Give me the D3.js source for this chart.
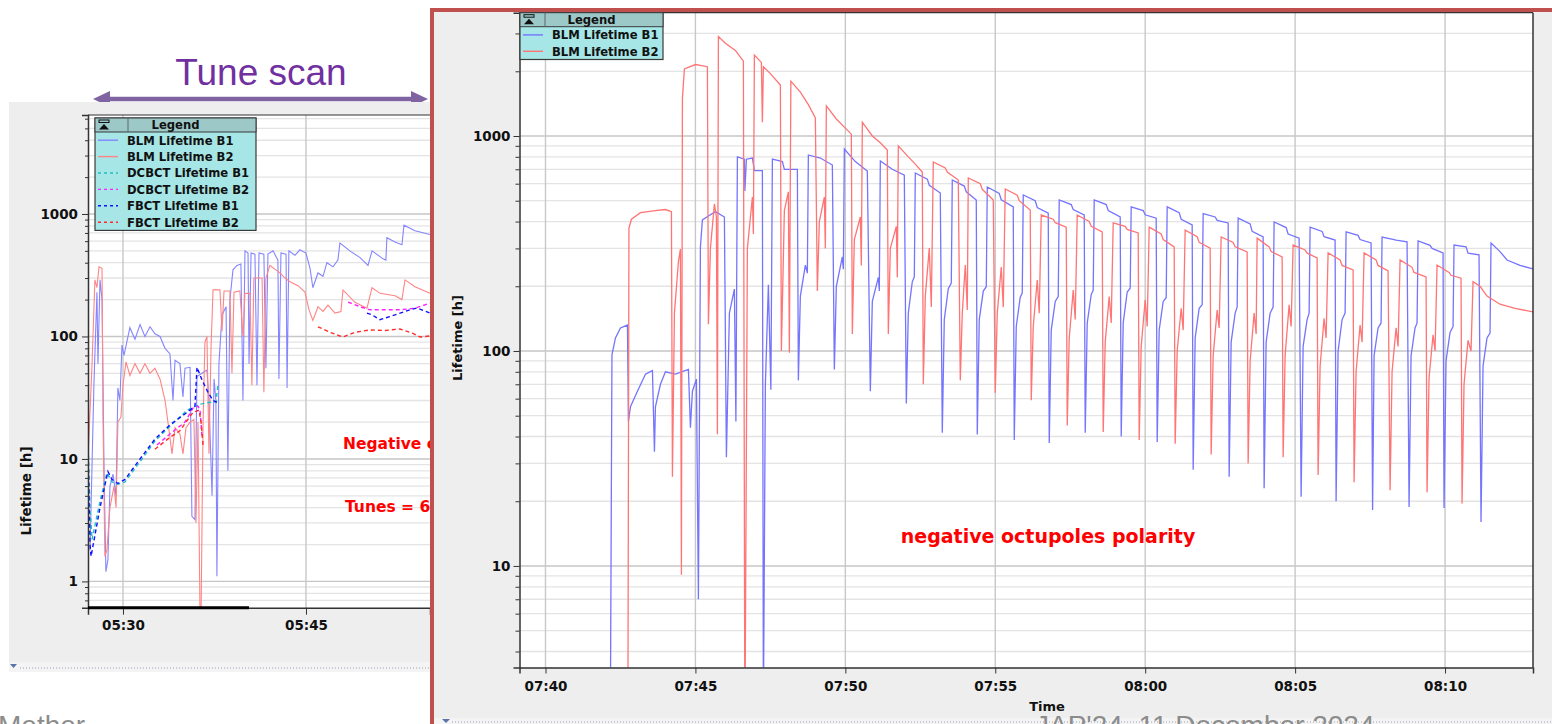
<!DOCTYPE html>
<html><head><meta charset="utf-8">
<script src="https://cdn.jsdelivr.net/npm/d3@7"></script>
<style>body{margin:0;background:#fff;} svg{display:block;}</style>
</head><body>
<svg id="c" width="1552" height="724"></svg>
<script>
// ---------------- DATA ----------------
const lifetimeTicks = [1, 10, 100, 1000];
const leftTimeTicks = ["05:30", "05:45"];
const rightTimeTicks = ["07:40", "07:45", "07:50", "07:55", "08:00", "08:05", "08:10"];
const leftLegend = ["BLM Lifetime B1", "BLM Lifetime B2", "DCBCT Lifetime B1", "DCBCT Lifetime B2", "FBCT Lifetime B1", "FBCT Lifetime B2"];
const rightLegend = ["BLM Lifetime B1", "BLM Lifetime B2"];

// Left panel (tune scan) series: [time, lifetime h]
const blmB1Left = [["05:27:18",1.8],["05:27:37",40],["05:27:52",230],["05:27:57",60],["05:28:07",290],["05:28:17",200],["05:28:27",8],["05:28:36",1.2],["05:28:46",1.5],["05:28:56",6],["05:29:11",7.5],["05:29:26",5],["05:29:35",38],["05:29:45",30],["05:29:55",85],["05:30:05",70],["05:30:34",118],["05:30:59",95],["05:31:24",125],["05:31:48",100],["05:32:13",120],["05:32:37",105],["05:33:02",100],["05:33:27",80],["05:33:51",72],["05:34:06",30],["05:34:16",64],["05:34:40",60],["05:34:55",32],["05:35:05",55],["05:35:30",56],["05:35:39",3.4],["05:35:54",3.2],["05:36:04",47],["05:36:43",52],["05:36:53",53],["05:37:03",30],["05:37:18",5],["05:37:28",45],["05:37:37",30],["05:37:42",1.1],["05:37:52",60],["05:38:07",150],["05:38:27",175],["05:38:36",8],["05:38:46",200],["05:39:01",350],["05:39:21",380],["05:39:40",390],["05:39:50",30],["05:40:00",500],["05:40:15",480],["05:40:20",60],["05:40:30",480],["05:40:49",470],["05:40:59",40],["05:41:09",480],["05:41:33",470],["05:41:43",55],["05:41:53",470],["05:42:18",500],["05:42:42",420],["05:42:47",45],["05:42:57",480],["05:43:22",470],["05:43:27",38],["05:43:36",500],["05:44:06",460],["05:44:30",510],["05:45:00",480],["05:45:20",360],["05:45:34",250],["05:45:59",330],["05:46:24",310],["05:46:43",400],["05:47:13",370],["05:47:37",420],["05:47:47",580],["05:48:36",500],["05:49:26",440],["05:50:05",380],["05:50:25",500],["05:51:19",430],["05:51:33",420],["05:51:38",640],["05:52:18",590],["05:52:52",560],["05:53:02",810],["05:53:56",730],["05:55:10",680]];
const blmB2Left = [["05:27:08",10],["05:27:28",60],["05:27:42",290],["05:27:52",250],["05:28:02",370],["05:28:17",360],["05:28:22",20],["05:28:31",1.6],["05:28:41",1.8],["05:28:56",4],["05:29:16",6],["05:29:26",4],["05:29:35",20],["05:29:50",22],["05:30:00",40],["05:30:15",62],["05:30:34",48],["05:30:59",60],["05:31:24",50],["05:31:48",60],["05:32:13",50],["05:32:37",55],["05:33:02",45],["05:33:27",30],["05:33:51",15],["05:34:01",11],["05:34:16",18],["05:34:40",16],["05:34:55",11],["05:35:10",18],["05:35:30",20],["05:35:49",21],["05:35:59",3],["05:36:09",20],["05:36:19",0.5],["05:36:24",0.5],["05:36:34",20],["05:36:43",90],["05:36:53",100],["05:37:03",11],["05:37:13",80],["05:37:23",240],["05:37:57",240],["05:38:07",110],["05:38:17",235],["05:38:46",235],["05:38:56",50],["05:39:06",230],["05:39:35",235],["05:39:50",100],["05:40:00",225],["05:40:25",225],["05:40:34",40],["05:40:44",300],["05:41:24",300],["05:41:33",35],["05:41:43",300],["05:42:03",380],["05:42:32",350],["05:42:52",330],["05:43:17",300],["05:43:41",280],["05:44:21",260],["05:44:55",230],["05:45:15",165],["05:45:34",135],["05:45:59",175],["05:46:24",160],["05:46:48",180],["05:47:23",155],["05:47:52",160],["05:48:02",240],["05:49:01",190],["05:50:00",170],["05:50:25",250],["05:51:04",225],["05:52:18",215],["05:52:52",200],["05:53:07",290],["05:53:56",255],["05:55:10",225]];
const dcbctB1Left = [["05:27:08",14],["05:27:18",4],["05:27:28",2.2],["05:28:07",4.5],["05:28:41",7.7],["05:29:06",6.5],["05:29:35",6.2],["05:30:10",6.5],["05:31:24",9.5],["05:32:37",14],["05:33:51",18.5],["05:35:15",25],["05:36:19",28],["05:37:08",29],["05:37:37",29],["05:37:47",40]];
const dcbctB2LeftA = [["05:32:47",13],["05:33:51",16],["05:35:05",20],["05:35:44",26],["05:36:09",27],["05:36:19",25],["05:36:29",15]];
const dcbctB2LeftB = [["05:48:27",191],["05:49:26",175],["05:50:15",165],["05:52:42",165],["05:53:56",170],["05:55:10",187]];
const fbctB1LeftA = [["05:27:08",11],["05:27:18",2],["05:27:23",1.6],["05:28:07",4],["05:28:46",7.9],["05:29:06",6.8],["05:29:35",6.3],["05:30:10",6.8],["05:31:24",10],["05:32:37",14.5],["05:33:51",19],["05:35:15",24],["05:35:54",27],["05:36:04",56],["05:36:29",44],["05:36:58",35],["05:37:23",30],["05:37:42",29]];
const fbctB1LeftB = [["05:50:00",155],["05:50:25",150],["05:51:04",137],["05:52:18",150],["05:53:32",165],["05:54:06",171],["05:55:10",155]];
const fbctB2LeftA = [["05:32:37",12],["05:33:51",15],["05:34:40",17],["05:35:10",20],["05:35:44",24],["05:36:14",25],["05:36:24",20],["05:36:34",13]];
const fbctB2LeftB = [["05:45:59",120],["05:46:58",108],["05:48:02",99],["05:49:01",108],["05:50:15",113],["05:51:29",112],["05:52:42",115],["05:53:46",106],["05:54:21",99],["05:55:10",101]];

// Right panel (negative octupoles) series
const blmB1Right = [["07:42:10",2.5],["07:42:13",96],["07:42:20",115],["07:42:30",128],["07:42:44",132],["07:42:46",47],["07:42:50",55],["07:43:04",65],["07:43:20",78],["07:43:34",81],["07:43:38",34],["07:43:40",55],["07:43:50",70],["07:44:00",80],["07:44:20",78],["07:44:46",82],["07:44:50",44],["07:44:54",65],["07:45:02",74],["07:45:06",7],["07:45:10",305],["07:45:14",407],["07:45:30",430],["07:45:40",445],["07:45:58",420],["07:46:02",32],["07:46:08",150],["07:46:18",194],["07:46:21",47],["07:46:24",800],["07:46:38",780],["07:46:39",555],["07:46:42",780],["07:46:54",790],["07:46:58",690],["07:47:14",690],["07:47:16",2],["07:47:20",70],["07:47:26",203],["07:47:31",66],["07:47:34",780],["07:47:54",760],["07:47:58",700],["07:48:24",700],["07:48:26",73],["07:48:30",180],["07:48:40",251],["07:48:44",230],["07:48:46",816],["07:49:10",790],["07:49:34",733],["07:49:38",82],["07:49:42",200],["07:49:54",274],["07:49:56",240],["07:49:58",870],["07:50:20",760],["07:50:44",687],["07:50:50",65],["07:50:54",170],["07:51:06",220],["07:51:08",190],["07:51:10",765],["07:51:34",700],["07:51:58",658],
["07:52:02",57],["07:52:06",150],["07:52:14",210],["07:52:18",221],["07:52:20",673],["07:52:44",630],["07:52:48",590],["07:53:10",543],
["07:53:14",41.7],["07:53:18",140],["07:53:26",195],["07:53:32",207],["07:53:34",624],["07:53:58",585],["07:54:02",550],["07:54:22",504],
["07:54:24",40.9],["07:54:28",140],["07:54:36",190],["07:54:42",199],["07:54:44",579],["07:55:08",540],["07:55:12",505],["07:55:36",468],
["07:55:38",38.5],["07:55:42",130],["07:55:50",178],["07:55:54",186],["07:55:56",532],["07:56:20",500],["07:56:24",465],["07:56:46",438],
["07:56:48",37.3],["07:56:52",125],["07:57:00",170],["07:57:06",179],["07:57:08",504],["07:57:32",480],["07:57:36",455],["07:57:58",429],
["07:58:00",41.7],["07:58:04",135],["07:58:12",183],["07:58:16",192],["07:58:18",504],["07:58:42",480],["07:58:46",450],["07:59:10",420],
["07:59:12",40],["07:59:16",135],["07:59:24",188],["07:59:30",196],["07:59:32",468],["07:59:56",450],["08:00:00",430],["08:00:22",415],
["08:00:24",37.7],["08:00:28",125],["08:00:36",170],["08:00:42",177],["08:00:44",468],["08:01:08",440],["08:01:12",410],["08:01:34",386],
["08:01:36",28],["08:01:40",115],["08:01:48",158],["08:01:54",164],["08:01:56",436],["08:02:20",420],["08:02:24",405],["08:02:46",394],
["08:02:48",26],["08:02:52",110],["08:03:00",150],["08:03:04",160],["08:03:06",415],["08:03:30",390],["08:03:34",360],["08:03:56",339],
["08:03:58",23],["08:04:02",110],["08:04:10",150],["08:04:16",160],["08:04:18",398],["08:04:42",375],["08:04:46",350],["08:05:08",335],
["08:05:12",21],["08:05:16",105],["08:05:24",140],["08:05:28",150],["08:05:30",377],["08:05:54",360],["08:05:58",340],["08:06:20",328],
["08:06:22",20],["08:06:26",100],["08:06:34",140],["08:06:40",150],["08:06:42",358],["08:07:06",345],["08:07:10",330],["08:07:32",318],
["08:07:35",18.2],["08:07:38",95],["08:07:46",128],["08:07:52",135],["08:07:54",339],["08:08:18",330],["08:08:22",328],["08:08:44",322],
["08:08:48",18.8],["08:08:52",95],["08:09:00",128],["08:09:04",135],["08:09:06",325],["08:09:30",310],["08:09:34",300],["08:09:56",286],
["08:09:58",18.6],["08:10:02",90],["08:10:10",122],["08:10:16",130],["08:10:18",311],["08:10:42",305],["08:10:46",285],["08:11:08",280],
["08:11:12",16],["08:11:16",85],["08:11:24",115],["08:11:30",121],["08:11:32",318],["08:11:50",290],["08:12:04",265],["08:12:30",250],["08:12:56",241]];
const blmB2Right = [["07:42:45",2.5],["07:42:47",373],["07:42:52",410],["07:43:10",440],["07:43:40",450],["07:44:00",455],["07:44:12",445],["07:44:14",26],["07:44:18",150],["07:44:26",260],["07:44:30",298],["07:44:32",9.1],["07:44:34",1500],["07:44:38",2050],["07:45:00",2150],["07:45:24",2100],["07:45:26",133],["07:45:30",300],["07:45:38",483],["07:45:42",420],["07:45:44",41],["07:45:46",2900],["07:46:00",2700],["07:46:20",2500],["07:46:36",2230],["07:46:39",1.5],["07:46:44",300],["07:46:54",520],["07:46:56",350],["07:46:58",2380],["07:47:12",2200],["07:47:14",1160],["07:47:16",2100],["07:47:30",1950],["07:47:50",1725],["07:47:52",100],["07:47:58",450],["07:48:06",550],["07:48:08",98],["07:48:11",1800],["07:48:30",1600],["07:48:46",1400],["07:49:00",1213],["07:49:04",190],["07:49:08",400],["07:49:18",520],["07:49:20",300],["07:49:22",1380],["07:49:42",1200],["07:49:58",1100],["07:50:12",1020],["07:50:14",120],["07:50:18",330],["07:50:30",420],["07:50:32",250],["07:50:34",1160],["07:50:54",1000],["07:51:10",930],["07:51:24",860],["07:51:26",120],["07:51:30",300],["07:51:42",380],["07:51:44",220],["07:51:46",900],["07:52:06",800],["07:52:20",740],["07:52:34",680],
["07:52:36",70],["07:52:40",180],["07:52:48",301],["07:52:52",160],["07:52:56",757],["07:53:20",710],["07:53:24",680],["07:53:46",624],
["07:53:50",73],["07:53:54",150],["07:54:00",251],["07:54:04",155],["07:54:06",638],["07:54:30",600],["07:54:34",565],["07:54:56",504],
["07:55:00",64],["07:55:04",150],["07:55:12",246],["07:55:16",160],["07:55:20",567],["07:55:44",530],["07:55:48",500],["07:56:10",453],
["07:56:12",59],["07:56:16",130],["07:56:24",214],["07:56:28",150],["07:56:32",429],["07:56:56",410],["07:57:00",395],["07:57:22",377],
["07:57:24",45],["07:57:28",115],["07:57:36",192],["07:57:40",140],["07:57:44",429],["07:58:08",400],["07:58:12",380],["07:58:34",358],
["07:58:36",42],["07:58:40",110],["07:58:48",179],["07:58:52",135],["07:58:56",394],["07:59:20",380],["07:59:24",368],["07:59:46",354],
["07:59:48",38.5],["07:59:52",105],["08:00:00",173],["08:00:04",130],["08:00:08",377],["08:00:32",350],["08:00:36",330],["08:00:58",305],
["08:01:00",37],["08:01:04",100],["08:01:12",158],["08:01:16",125],["08:01:20",365],["08:01:44",340],["08:01:48",320],["08:02:10",301],
["08:02:12",33],["08:02:16",95],["08:02:24",155],["08:02:28",128],["08:02:32",339],["08:02:56",320],["08:03:00",305],["08:03:24",289],
["08:03:26",30],["08:03:30",90],["08:03:38",150],["08:03:42",120],["08:03:44",335],["08:04:08",305],["08:04:12",290],["08:04:34",274],
["08:04:36",32],["08:04:40",95],["08:04:48",164],["08:04:52",130],["08:04:56",311],["08:05:20",295],["08:05:24",285],["08:05:44",271],
["08:05:46",26.5],["08:05:50",85],["08:05:58",142],["08:06:02",115],["08:06:06",286],["08:06:30",265],["08:06:34",250],["08:06:56",238],
["08:06:58",24.5],["08:07:02",80],["08:07:10",132],["08:07:14",110],["08:07:18",286],["08:07:42",265],["08:07:46",250],["08:08:06",236],
["08:08:10",22.5],["08:08:14",80],["08:08:22",128],["08:08:26",105],["08:08:30",265],["08:08:54",245],["08:08:58",232],["08:09:22",221],
["08:09:24",22],["08:09:28",75],["08:09:36",119],["08:09:40",100],["08:09:44",251],["08:10:08",232],["08:10:12",225],["08:10:32",218],
["08:10:34",19.5],["08:10:38",70],["08:10:46",112],["08:10:52",100],["08:10:56",210],["08:11:10",200],["08:11:24",180],["08:11:50",165],["08:12:20",158],["08:12:56",152]];

// ---------------- DRAWING ----------------
const svg = d3.select("#c");
const parse = d3.timeParse("%H:%M:%S");
const parseTick = d3.timeParse("%H:%M");
const FONT = "'DejaVu Sans', Verdana, sans-serif";
const SLIDE_FONT = "'Liberation Sans', Arial, sans-serif";

svg.append("rect").attr("width",1552).attr("height",724).attr("fill","#fff");

function minors(dom){
  const out=[];
  for(let e=-1;e<=4;e++) for(let k=2;k<=9;k++){const v=+(k*Math.pow(10,e)).toPrecision(3); if(v>=dom[0]&&v<=dom[1]) out.push(v);}
  return out;
}

function drawPanel(g, cfg){
  const {x, y, x0, x1, y0, y1, ticksX, clipId} = cfg;
  g.append("rect").attr("x",x0).attr("y",y0).attr("width",x1-x0).attr("height",y1-y0).attr("fill","#fff");
  const grid = g.append("g");
  grid.selectAll(".mn").data(minors(y.domain())).join("line")
    .attr("x1",x0).attr("x2",x1).attr("y1",d=>y(d)).attr("y2",d=>y(d))
    .attr("stroke","#e4e4e4").attr("stroke-width",1.3);
  grid.selectAll(".mj").data(lifetimeTicks.filter(d=>d>=y.domain()[0]&&d<=y.domain()[1])).join("line")
    .attr("x1",x0).attr("x2",x1).attr("y1",d=>y(d)).attr("y2",d=>y(d))
    .attr("stroke","#c6c6c6").attr("stroke-width",1.4);
  grid.selectAll(".vx").data(ticksX.map(parseTick)).join("line")
    .attr("x1",d=>x(d)).attr("x2",d=>x(d)).attr("y1",y0).attr("y2",y1)
    .attr("stroke","#c8c8c8").attr("stroke-width",1.4);
  g.append("clipPath").attr("id",clipId).append("rect").attr("x",x0).attr("y",y0).attr("width",x1-x0).attr("height",y1-y0);
}

function styleAxis(ax, size){
  ax.selectAll("text").attr("font-family",FONT).attr("font-weight","bold").attr("font-size",size).attr("fill","#111");
  ax.selectAll("line").attr("stroke","#333");
  ax.select(".domain").attr("stroke","#333").attr("stroke-width",1.5);
}

function lineGen(x,y){ return d3.line().x(d=>x(parse(d[0]))).y(d=>y(d[1])); }

// ---- Tune scan annotation ----
svg.append("text").attr("x",261).attr("y",85).attr("text-anchor","middle")
  .attr("font-family",SLIDE_FONT).attr("font-size",37).attr("fill","#7030a0").text("Tune scan");
svg.append("line").attr("x1",106).attr("x2",414).attr("y1",99).attr("y2",99).attr("stroke","#8064a2").attr("stroke-width",4.5);
svg.append("path").attr("d","M93,99 L110,91 L110,107 Z").attr("fill","#8064a2");
svg.append("path").attr("d","M428,99 L411,91 L411,107 Z").attr("fill","#8064a2");

// ---- LEFT PANEL ----
const gl = svg.append("g");
gl.append("rect").attr("x",9).attr("y",102).attr("width",430).attr("height",560).attr("fill","#eeeeee");
gl.append("rect").attr("x",9).attr("y",662).attr("width",430).attr("height",10).attr("fill","#f4f4f4");
gl.append("line").attr("x1",20).attr("x2",440).attr("y1",668).attr("y2",668).attr("stroke","#9aa4b4").attr("stroke-width",1).attr("stroke-dasharray","1,2");
gl.append("path").attr("d","M10,664 L17,664 L13.5,668 Z").attr("fill","#5a73a8");

const xL = d3.scaleTime().domain([parse("05:27:08"), parse("05:55:10")]).range([88, 430]);
const yL = d3.scaleLog().domain([0.61, 6430]).range([607.7, 115]);
drawPanel(gl, {x:xL, y:yL, x0:88, x1:431, y0:115, y1:607.7, ticksX:leftTimeTicks, clipId:"clipL"});

const linesL = gl.append("g").attr("clip-path","url(#clipL)");
const lgL = lineGen(xL,yL);
const leftSeries = [
  [blmB1Left,"#8585ff",null,1.1],[blmB2Left,"#ff8585",null,1.1],
  [dcbctB1Left,"#20c0c0","4,3",1.4],[dcbctB2LeftA,"#ff20ff","4,3",1.4],[dcbctB2LeftB,"#ff20ff","4,3",1.4],
  [fbctB1LeftA,"#1010ff","4,3",1.4],[fbctB1LeftB,"#1010ff","4,3",1.4],
  [fbctB2LeftA,"#ff2a2a","4,3",1.4],[fbctB2LeftB,"#ff2a2a","4,3",1.4]
];
leftSeries.forEach(([data,col,dash,w])=>{
  linesL.append("path").attr("d",lgL(data)).attr("fill","none").attr("stroke",col)
    .attr("stroke-width",w).attr("stroke-dasharray",dash);
});

// axes
const axLy = gl.append("g").attr("transform","translate(88,0)")
  .call(d3.axisLeft(yL).tickValues(lifetimeTicks).tickSize(6).tickPadding(4).tickFormat(d3.format("d")));
styleAxis(axLy,13.5);
const axLym = gl.append("g").attr("transform","translate(88,0)")
  .call(d3.axisLeft(yL).tickValues(minors(yL.domain())).tickSize(3).tickFormat(""));
axLym.select(".domain").remove(); axLym.selectAll("line").attr("stroke","#333");
const axLx = gl.append("g").attr("transform","translate(0,607.7)")
  .call(d3.axisBottom(xL).tickValues(leftTimeTicks.map(parseTick)).tickSize(7).tickPadding(6).tickFormat(d3.timeFormat("%H:%M")));
styleAxis(axLx,13.5);
gl.append("line").attr("x1",88).attr("x2",431).attr("y1",115).attr("y2",115).attr("stroke","#333").attr("stroke-width",1.2);
gl.append("line").attr("x1",88).attr("x2",249).attr("y1",607.7).attr("y2",607.7).attr("stroke","#000").attr("stroke-width",3);

gl.append("text").attr("transform","translate(31,491) rotate(-90)").attr("text-anchor","middle")
  .attr("font-family",FONT).attr("font-weight","bold").attr("font-size",13.5).attr("fill","#111").text("Lifetime [h]");

gl.append("text").attr("x",343).attr("y",449).attr("font-family",FONT).attr("font-weight","bold")
  .attr("font-size",15.5).attr("fill","#ff0000").text("Negative octupoles polarity");
gl.append("text").attr("x",345).attr("y",512).attr("font-family",FONT).attr("font-weight","bold")
  .attr("font-size",15.5).attr("fill","#ff0000").text("Tunes = 62.31 / 60.32");

function legend(g, lx, ly, w, items, styles, textX, divX){
  const rowH = 16.4, headH = 14;
  const h = headH + rowH*items.length;
  g.append("rect").attr("x",lx).attr("y",ly).attr("width",w).attr("height",h).attr("fill","#a6e6e6").attr("stroke","#3a3a3a").attr("stroke-width",1.2);
  g.append("rect").attr("x",lx).attr("y",ly).attr("width",w).attr("height",headH).attr("fill","#9cc8c8").attr("stroke","#3a3a3a").attr("stroke-width",1);
  g.append("line").attr("x1",divX).attr("x2",divX).attr("y1",ly).attr("y2",ly+headH).attr("stroke","#5a6a6a");
  g.append("rect").attr("x",lx+4).attr("y",ly+2).attr("width",10).attr("height",2.5).attr("fill","none").attr("stroke","#111").attr("stroke-width",1);
  g.append("path").attr("d",`M${lx+4},${ly+11.5} L${lx+14},${ly+11.5} L${lx+9},${ly+6} Z`).attr("fill","#111");
  g.append("text").attr("x",lx+w/2).attr("y",ly+11).attr("text-anchor","middle").attr("font-family",FONT)
    .attr("font-weight","bold").attr("font-size",11.6).attr("fill","#111").text("Legend");
  items.forEach((t,i)=>{
    const cy = ly + headH + rowH*i + rowH/2;
    g.append("line").attr("x1",lx+3).attr("x2",lx+23).attr("y1",cy).attr("y2",cy)
      .attr("stroke",styles[i][0]).attr("stroke-width",1.4).attr("stroke-dasharray",styles[i][1]);
    g.append("text").attr("x",textX).attr("y",cy+4.3).attr("font-family",FONT).attr("font-weight","bold")
      .attr("font-size",11.6).attr("fill","#111").text(t);
  });
}
legend(gl, 95, 118, 161, leftLegend,
  [["#8585ff",null],["#ff8585",null],["#20c0c0","3,3"],["#ff20ff","3,3"],["#1010ff","3,3"],["#ff2a2a","3,3"]], 127, 128);

// ---- RIGHT PANEL ----
const gr = svg.append("g");
gr.append("rect").attr("x",432).attr("y",10).attr("width",1140).attr("height",740).attr("fill","#eeeeee");
gr.append("rect").attr("x",434).attr("y",718).attr("width",1120).attr("height",8).attr("fill","#f4f4f4");
gr.append("line").attr("x1",452).attr("x2",1552).attr("y1",722).attr("y2",722).attr("stroke","#9aa4b4").attr("stroke-width",1).attr("stroke-dasharray","1,2");
gr.append("path").attr("d","M442,719 L450,719 L446,723 Z").attr("fill","#5a73a8");

const xR = d3.scaleTime().domain([parse("07:39:08"), parse("08:12:56")]).range([519.5, 1533]);
const yR = d3.scaleLog().domain([3.37, 3746]).range([667.5, 12.7]);
drawPanel(gr, {x:xR, y:yR, x0:519.5, x1:1533, y0:12.7, y1:667.5, ticksX:rightTimeTicks, clipId:"clipR"});

const linesR = gr.append("g").attr("clip-path","url(#clipR)");
const lgR = lineGen(xR,yR);
linesR.append("path").attr("d",lgR(blmB1Right)).attr("fill","none").attr("stroke","#7474ff").attr("stroke-width",1.3);
linesR.append("path").attr("d",lgR(blmB2Right)).attr("fill","none").attr("stroke","#ff7474").attr("stroke-width",1.3);

const axRy = gr.append("g").attr("transform","translate(519.5,0)")
  .call(d3.axisLeft(yR).tickValues(lifetimeTicks.filter(d=>d>=yR.domain()[0])).tickSize(6).tickPadding(3).tickFormat(d3.format("d")));
styleAxis(axRy,13.5);
const axRym = gr.append("g").attr("transform","translate(519.5,0)")
  .call(d3.axisLeft(yR).tickValues(minors(yR.domain())).tickSize(4).tickFormat(""));
axRym.select(".domain").remove(); axRym.selectAll("line").attr("stroke","#333");
const axRx = gr.append("g").attr("transform","translate(0,667.5)")
  .call(d3.axisBottom(xR).tickValues(rightTimeTicks.map(parseTick)).tickSize(6).tickPadding(8).tickFormat(d3.timeFormat("%H:%M")));
styleAxis(axRx,13.5);
gr.append("line").attr("x1",519.5).attr("x2",1533).attr("y1",12.7).attr("y2",12.7).attr("stroke","#333").attr("stroke-width",1.2);
gr.append("line").attr("x1",1533).attr("x2",1533).attr("y1",12.7).attr("y2",667.5).attr("stroke","#333").attr("stroke-width",1.5);

gr.append("text").attr("transform","translate(462,338) rotate(-90)").attr("text-anchor","middle")
  .attr("font-family",FONT).attr("font-weight","bold").attr("font-size",13).attr("fill","#111").text("Lifetime [h]");
gr.append("text").attr("x",1047).attr("y",711).attr("text-anchor","middle")
  .attr("font-family",FONT).attr("font-weight","bold").attr("font-size",13).attr("fill","#111").text("Time");
gr.append("text").attr("x",1048).attr("y",543).attr("text-anchor","middle").attr("font-family",FONT)
  .attr("font-weight","bold").attr("font-size",19).attr("fill","#ff0000").text("negative octupoles polarity");

legend(gr, 520, 12.7, 143, rightLegend, [["#7474ff",null],["#ff7474",null]], 552, 545);

gr.append("rect").attr("x",432).attr("y",10).attr("width",1140).attr("height",740).attr("fill","none")
  .attr("stroke","#c0504d").attr("stroke-width",4);

// ---- footer ----
svg.append("text").attr("x",-2).attr("y",735).attr("font-family",SLIDE_FONT).attr("font-size",28).attr("fill","#8c8c8c").text("Mether");
svg.append("text").attr("x",1035).attr("y",735).attr("font-family",SLIDE_FONT).attr("font-size",28).attr("fill","#8c8c8c").text("JAP'24, 11 December 2024");
</script>
</body></html>
